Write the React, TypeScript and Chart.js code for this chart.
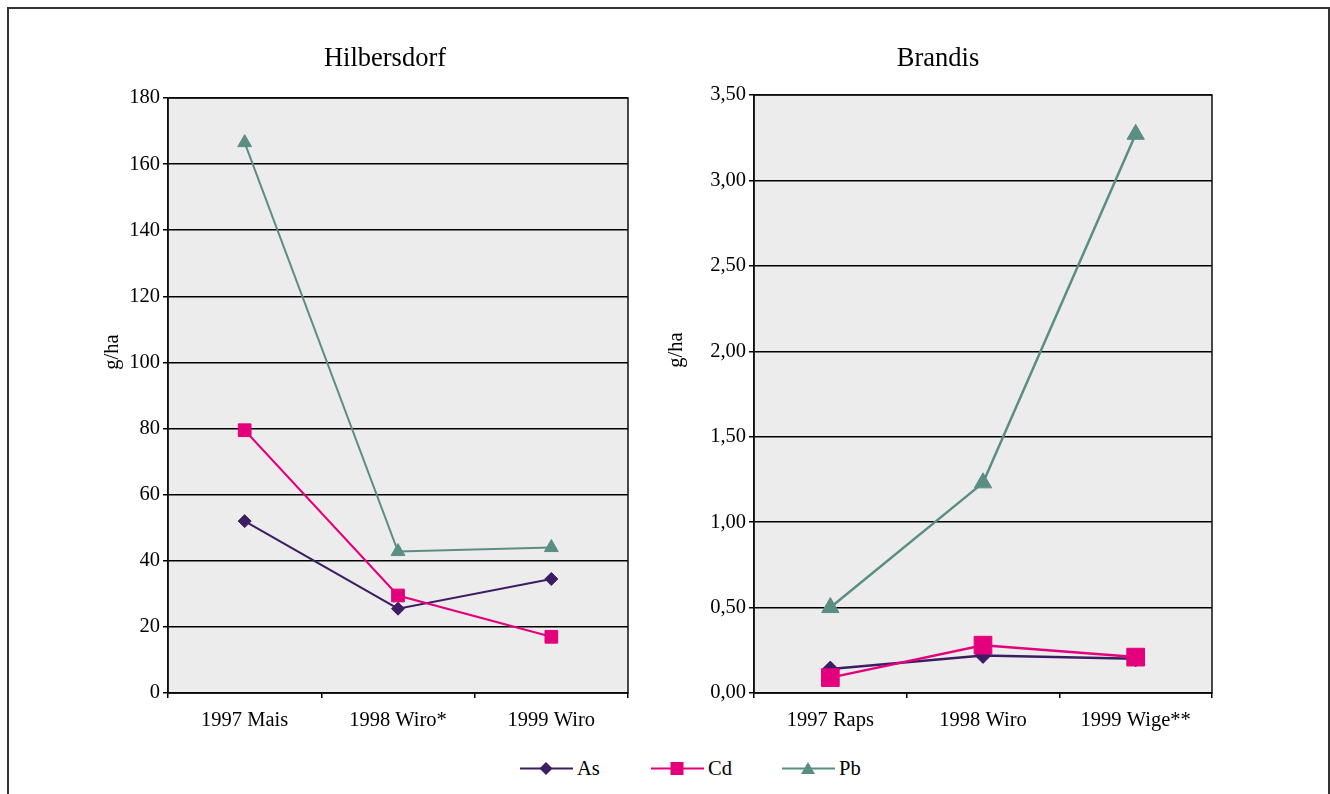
import React, { useEffect, useRef } from 'react';
import { Chart, registerables } from 'chart.js';

Chart.register(...registerables);

const SERIF = "'Liberation Serif', 'Times New Roman', Times, serif";

const seriesNames = ['As', 'Cd', 'Pb'];
const seriesColors = ['#3c1d62', '#e4007c', '#5a8e85'];
const seriesShapes = ['rectRot', 'rect', 'triangle'];

const hilbersdorfCategories = ['1997 Mais', '1998 Wiro*', '1999 Wiro'];
const hilbersdorfAs = [52, 25.5, 34.5];
const hilbersdorfCd = [79.5, 29.5, 17];
const hilbersdorfPb = [166.5, 42.8, 44];
const hilbersdorfTickLabels = ['0', '20', '40', '60', '80', '100', '120', '140', '160', '180'];

const brandisCategories = ['1997 Raps', '1998 Wiro', '1999 Wige**'];
const brandisAs = [0.14, 0.22, 0.2];
const brandisCd = [0.09, 0.28, 0.21];
const brandisPb = [0.5, 1.23, 3.27];
const brandisTickLabels = ['0,00', '0,50', '1,00', '1,50', '2,00', '2,50', '3,00', '3,50'];

// grey plot background and a thin frame around the plot area
const plotFrame = {
  id: 'plotFrame',
  beforeDraw(chart: any) {
    const { ctx, chartArea } = chart;
    ctx.save();
    ctx.fillStyle = '#ececec';
    ctx.fillRect(chartArea.left, chartArea.top, chartArea.width, chartArea.height);
    ctx.restore();
  },
  beforeDatasetsDraw(chart: any) {
    const { ctx, chartArea } = chart;
    ctx.save();
    ctx.strokeStyle = '#111';
    ctx.lineWidth = 1.5;
    ctx.strokeRect(chartArea.left, chartArea.top, chartArea.width, chartArea.height);
    ctx.restore();
  },
};

// panel heading and rotated caption of the value axis
const panelText = {
  id: 'panelText',
  afterDraw(chart: any, _args: any, opts: any) {
    if (!opts) return;
    const { ctx } = chart;
    ctx.save();
    ctx.fillStyle = '#000';
    ctx.textAlign = 'center';
    ctx.textBaseline = 'middle';
    ctx.font = `26.5px ${SERIF}`;
    ctx.fillText(opts.title, opts.titleX, opts.titleY);
    ctx.translate(opts.captionX, opts.captionY);
    ctx.rotate(-Math.PI / 2);
    ctx.font = `20.5px ${SERIF}`;
    ctx.fillText(opts.caption, 0, 0);
    ctx.restore();
  },
};

type PanelProps = {
  left: number;
  width: number;
  title: string;
  titleX: number;
  categories: string[];
  series: number[][];
  tickLabels: string[];
  max: number;
  step: number;
  padTop: number;
  padRight: number;
  axisWidth: number;
  radii: number[];
  lineWidth: number;
  caption: { x: number; y: number };
};

const TOP = 20;
const HEIGHT = 725;

function Panel(p: PanelProps) {
  const ref = useRef<HTMLCanvasElement>(null);

  useEffect(() => {
    if (!ref.current) return;
    const chart = new Chart(ref.current, {
      type: 'line',
      data: {
        labels: p.categories,
        datasets: p.series.map((values, i) => ({
          label: seriesNames[i],
          data: values,
          borderColor: seriesColors[i],
          backgroundColor: seriesColors[i],
          borderWidth: p.lineWidth,
          pointStyle: seriesShapes[i] as any,
          pointRadius: p.radii[i],
          pointBorderWidth: 1,
          pointBorderColor: seriesColors[i],
          pointBackgroundColor: seriesColors[i],
          tension: 0,
          order: 3 - i,
          clip: false as any,
        })),
      },
      options: {
        animation: false,
        responsive: false,
        events: [],
        layout: { padding: { left: 0, right: p.padRight, top: p.padTop, bottom: 0 } },
        plugins: {
          legend: { display: false },
          tooltip: { enabled: false },
          title: { display: false },
          panelText: {
            title: p.title,
            titleX: p.titleX,
            titleY: 39,
            caption: 'g/ha',
            captionX: p.caption.x,
            captionY: p.caption.y,
          },
        } as any,
        scales: {
          x: {
            type: 'category',
            offset: true,
            grid: {
              offset: true,
              drawOnChartArea: false,
              drawTicks: true,
              tickLength: 5,
              color: '#000',
              lineWidth: 1.5,
            },
            border: { display: true, color: '#000', width: 1.5 },
            ticks: {
              font: { family: SERIF, size: 20.5 },
              color: '#000',
              padding: 10,
              maxRotation: 0,
              autoSkip: false,
            },
            afterFit: (s: any) => {
              s.height = 52;
            },
          },
          y: {
            min: 0,
            max: p.max,
            ticks: {
              stepSize: p.step,
              callback: (_v: any, i: number) => p.tickLabels[i],
              font: { family: SERIF, size: 20.5 },
              color: '#000',
              padding: 3,
            },
            grid: { color: '#000', lineWidth: 1.5, tickLength: 5 },
            border: { display: true, color: '#000', width: 1.5 },
            afterFit: (s: any) => {
              s.width = p.axisWidth;
            },
          },
        },
      },
      plugins: [plotFrame, panelText],
    });
    return () => chart.destroy();
  }, []);

  return (
    <canvas
      ref={ref}
      width={p.width}
      height={HEIGHT}
      style={{ position: 'absolute', left: p.left, top: TOP, width: p.width, height: HEIGHT }}
    />
  );
}

function Marker({ index }: { index: number }) {
  const c = seriesColors[index];
  let shape: any = null;
  if (index === 0) shape = <polygon points="26,1 32.5,7.5 26,14 19.5,7.5" fill={c} />;
  if (index === 1) shape = <rect x={19.5} y={1} width={13} height={13} fill={c} />;
  if (index === 2) shape = <polygon points="26,1 33,13 19,13" fill={c} />;
  return (
    <svg width={53} height={15} style={{ display: 'block' }}>
      <line x1={0} y1={7.5} x2={53} y2={7.5} stroke={c} strokeWidth={2} />
      {shape}
    </svg>
  );
}

const legendX = [520, 651, 782];

export default function App() {
  return (
    <div
      style={{
        position: 'absolute',
        left: 0,
        top: 0,
        width: 1330,
        height: 794,
        overflow: 'hidden',
        background: '#fff',
        fontFamily: SERIF,
      }}
    >
      <div
        style={{
          position: 'absolute',
          left: 7,
          top: 7,
          width: 1323,
          height: 900,
          boxSizing: 'border-box',
          border: '2px solid #333',
        }}
      />
      <Panel
        left={50}
        width={640}
        title="Hilbersdorf"
        titleX={335}
        categories={hilbersdorfCategories}
        series={[hilbersdorfAs, hilbersdorfCd, hilbersdorfPb]}
        tickLabels={hilbersdorfTickLabels}
        max={180}
        step={20}
        padTop={78}
        padRight={62}
        axisWidth={118}
        radii={[6.5, 9, 8]}
        lineWidth={2}
        caption={{ x: 63, y: 332 }}
      />
      <Panel
        left={620}
        width={620}
        title="Brandis"
        titleX={318}
        categories={brandisCategories}
        series={[brandisAs, brandisCd, brandisPb]}
        tickLabels={brandisTickLabels}
        max={3.5}
        step={0.5}
        padTop={75}
        padRight={28}
        axisWidth={134}
        radii={[8, 12.5, 10]}
        lineWidth={2.5}
        caption={{ x: 57, y: 330 }}
      />
      {seriesNames.map((name, i) => (
        <div
          key={name}
          style={{
            position: 'absolute',
            left: legendX[i],
            top: 756,
            height: 24,
            display: 'flex',
            alignItems: 'center',
            gap: 4,
            fontSize: 20.5,
            color: '#000',
            lineHeight: '24px',
          }}
        >
          <Marker index={i} />
          <span>{name}</span>
        </div>
      ))}
    </div>
  );
}
